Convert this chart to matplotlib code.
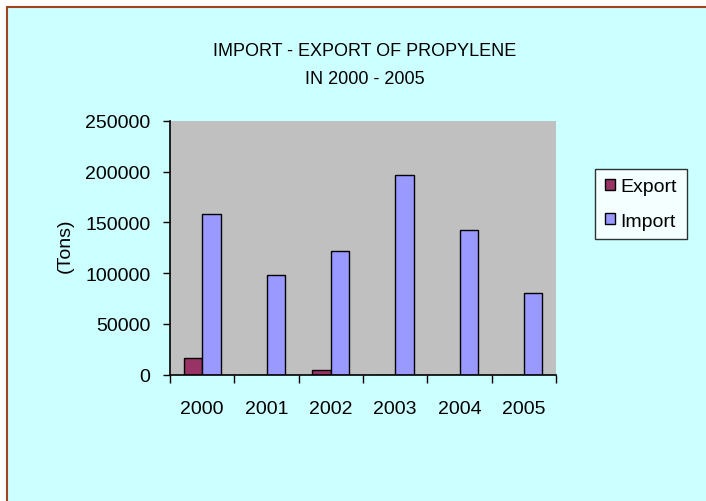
import matplotlib.pyplot as plt
import numpy as np
from matplotlib.patches import Rectangle

years = ['2000', '2001', '2002', '2003', '2004', '2005']
export_tons = [16700, 0, 4300, 0, 0, 0]
import_tons = [158000, 98400, 122000, 196200, 142400, 80700]

plt.rcParams['font.family'] = ['Liberation Sans', 'DejaVu Sans']

fig = plt.figure(figsize=(7.06, 5.02), dpi=100)
fig.patch.set_facecolor('white')
# фон и рамка всего графика
fig.patches.append(Rectangle((7 / 706, -0.1), 1.1, 1 - 8 / 502 + 0.1,
                             transform=fig.transFigure, facecolor='#CCFFFF',
                             edgecolor='#A0451E', linewidth=1.5, zorder=-1))

ax = fig.add_axes([170 / 706, 1 - 375.7 / 502, 386 / 706, 254 / 502])
ax.set_facecolor('#C0C0C0')

x = np.arange(len(years))
w = 1 / 3.5
ax.bar(x - w / 2, export_tons, w, color='#993366', edgecolor='black', linewidth=1, label='Export')
ax.bar(x + w / 2, import_tons, w, color='#9999FF', edgecolor='black', linewidth=1, label='Import')

ax.set_xlim(-0.5, len(years) - 0.5)
ax.set_ylim(0, 250000)
ax.set_yticks(np.arange(0, 250001, 50000))
ax.set_yticklabels([str(v) for v in range(0, 250001, 50000)], fontsize=14)
ax.set_xticks(np.arange(-0.5, len(years), 1))
ax.set_xticklabels([])
ax.set_xticks(x, minor=True)
ax.set_xticklabels(years, minor=True, fontsize=14)
ax.tick_params(axis='x', which='major', length=6, width=1, direction='out')
ax.tick_params(axis='x', which='minor', length=0, pad=18)
ax.tick_params(axis='y', length=5, width=1, direction='out', pad=9)
for s in ['top', 'right']:
    ax.spines[s].set_visible(False)
for s in ['left', 'bottom']:
    ax.spines[s].set_linewidth(1.2)

fig.text(65 / 706, 1 - 246 / 502, '(Tons)', rotation=90, ha='center', va='center', fontsize=14)

fig.text(365 / 706, 1 - 51 / 502, 'IMPORT - EXPORT OF PROPYLENE', ha='center', va='center',
         fontsize=13)
fig.text(365 / 706, 1 - 80 / 502, 'IN 2000 - 2005', ha='center', va='center', fontsize=13)

leg = fig.legend(loc='center', bbox_to_anchor=(641 / 706, 1 - 205 / 502), fontsize=14,
                 frameon=True, fancybox=False, edgecolor='black', handlelength=0.5,
                 handleheight=0.5, handletextpad=0.3, labelspacing=0.9, borderpad=0.5,
                 borderaxespad=0)
leg.get_frame().set_linewidth(1)
leg.get_frame().set_facecolor('white')

fig.savefig('out.png', dpi=100)
